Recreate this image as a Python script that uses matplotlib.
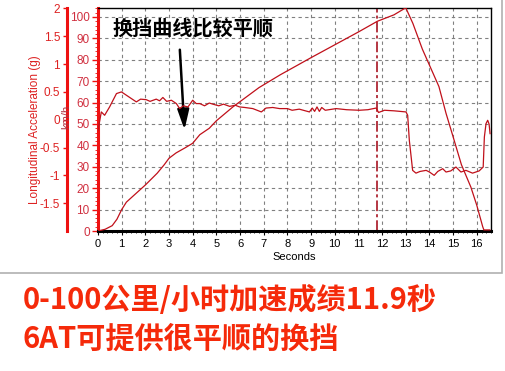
import numpy as np
import matplotlib
matplotlib.use("Agg")
import matplotlib.pyplot as plt
from matplotlib.patches import Rectangle
from matplotlib.ticker import MultipleLocator

# speed trace (s, km/h)
speed_t = [0, 0.3, 0.6, 0.8, 1.0, 1.2, 1.5, 2.0, 2.5, 2.8, 3.0, 3.3, 3.7, 4.0, 4.3,
           4.7, 5.0, 5.7, 6.8, 7.7, 9.0, 10.0, 11.0, 11.8, 12.5, 13.0, 13.3, 13.7,
           14.4, 14.7, 15.0, 15.35, 15.75, 16.0, 16.25, 16.3, 16.55]
speed_v = [0, 0.8, 2.5, 5.5, 10, 13.5, 16.5, 21.5, 27, 31, 34, 36.5, 39, 41, 45,
           48, 51.5, 58, 67, 73, 81, 87, 93, 98, 101, 104.3, 97, 85,
           67.5, 55, 44, 31, 20.5, 12, 2, 0.5, 0.5]

# longitudinal acceleration trace (s, g)
acc_t = [0.0, 0.14, 0.28, 0.49, 0.78, 0.99, 1.2, 1.62, 1.8, 2.04, 2.2, 2.46, 2.6,
         2.74, 2.9, 3.1, 3.31, 3.45, 3.6, 3.8, 4.0, 4.15, 4.3, 4.5, 4.7, 4.85,
         5.1, 5.3, 5.56, 5.8, 5.98, 6.2, 6.54, 6.9, 7.1, 7.38, 7.67, 8.0, 8.2,
         8.5, 8.93, 9.05, 9.15, 9.25, 9.35, 9.45, 9.6, 10.06, 10.5, 11.04, 11.4,
         11.75, 11.85, 12.1, 12.5, 13.01, 13.08, 13.15, 13.29, 13.43, 13.6,
         13.86, 14.0, 14.2, 14.35, 14.56, 14.7, 14.9, 15.12, 15.33, 15.54,
         15.82, 16.1, 16.27, 16.32, 16.39, 16.46, 16.52, 16.56]
acc_g = [-0.19, 0.14, 0.08, 0.23, 0.47, 0.50, 0.44, 0.32, 0.37, 0.36, 0.33, 0.37,
         0.34, 0.40, 0.33, 0.35, 0.29, 0.20, 0.25, 0.23, 0.35, 0.29, 0.29, 0.25,
         0.30, 0.28, 0.25, 0.28, 0.24, 0.26, 0.23, 0.22, 0.20, 0.14, 0.21, 0.22,
         0.20, 0.20, 0.17, 0.19, 0.14, 0.21, 0.15, 0.23, 0.15, 0.22, 0.17, 0.20,
         0.18, 0.17, 0.18, 0.21, 0.13, 0.17, 0.16, 0.14, 0.08, -0.37, -0.91,
         -0.96, -0.93, -0.91, -0.94, -1.0, -0.93, -0.88, -0.94, -0.92, -0.85,
         -0.94, -0.91, -0.96, -0.92, -0.85, -0.31, -0.07, -0.01, -0.08, -0.25]

speed_ticks = list(range(0, 101, 10))
acc_ticks = [-1.5, -1, -0.5, 0, 0.5, 1, 1.5, 2]
acc_labels = ["-1.5", "-1", "-0.5", "0", "0.5", "1", "1.5", "2"]
t_mark = 11.8

note = "换挡曲线比较平顺"
caption1 = "0-100公里/小时加速成绩11.9秒"
caption2 = "6AT可提供很平顺的换挡"

line_red = "#c0101a"
spine_red = "#ee1111"
cjk = ["Noto Sans CJK SC", "DejaVu Sans"]

fig = plt.figure(figsize=(5.06, 3.71), dpi=100)
fig.patch.set_facecolor("white")
ax = fig.add_axes([98/506, 1-231/371, (491-98)/506, (231-8)/371])

ax.set_xlim(0, 16.6)
ax.set_ylim(0, 104.2)
ax.set_xticks(range(0, 17))
ax.set_yticks(speed_ticks)
ax.xaxis.set_minor_locator(MultipleLocator(0.2))
ax.yaxis.set_minor_locator(MultipleLocator(2))
ax.grid(True, color="#808080", linestyle=(0, (3, 3)), linewidth=0.8)
ax.set_axisbelow(True)

for s in ["top", "right"]:
    ax.spines[s].set_linewidth(1.0)
    ax.spines[s].set_color("black")
ax.spines["left"].set_color(spine_red)
ax.spines["left"].set_linewidth(2.2)
ax.spines["bottom"].set_color("black")
ax.spines["bottom"].set_linewidth(2.2)

ax.tick_params(axis="x", labelsize=8, length=3, width=0.8, pad=3)
ax.tick_params(axis="x", which="minor", length=1.5, width=0.6)
ax.tick_params(axis="y", labelsize=8.5, length=4, width=1, color=spine_red,
               labelcolor="#d03040", pad=2)
ax.tick_params(axis="y", which="minor", length=2, width=0.6, color=spine_red)
for lb in ax.get_xticklabels() + ax.get_yticklabels():
    lb.set_fontfamily("Liberation Sans")

ax.set_xlabel("Seconds", fontsize=8, family="Liberation Sans", labelpad=2)

ax.plot(speed_t, speed_v, color=line_red, linewidth=0.9, zorder=3)
ax.axvline(t_mark, color="#a00010", linewidth=1.1, linestyle=(0, (7, 2, 2, 2)))

ax2 = ax.twinx()
ax2.set_ylim(-2, 2.008)
ax2.yaxis.set_ticks_position("left")
ax2.yaxis.set_label_position("left")
ax2.spines["left"].set_position(("outward", 31 * 0.72))
ax2.spines["left"].set_color(spine_red)
ax2.spines["left"].set_linewidth(2.2)
for s in ["top", "right", "bottom"]:
    ax2.spines[s].set_visible(False)
ax2.set_yticks(acc_ticks)
ax2.set_yticklabels(acc_labels)
ax2.tick_params(axis="y", labelsize=8.5, length=3, width=1, color=spine_red,
                labelcolor="#dd2222", pad=2)
for lb in ax2.get_yticklabels():
    lb.set_fontfamily("Liberation Sans")
ax2.set_ylabel("Longitudinal Acceleration (g)", fontsize=8.5, color="#dd2222",
               family="Liberation Sans")
ax2.yaxis.set_label_coords((41-98)/393, 0.455)
ax2.plot(acc_t, acc_g, color=line_red, linewidth=0.9, zorder=3)

ax2.text((66-98)/393, 0.51, "km/h", rotation=90, fontsize=8, color="#b03040",
         family="Liberation Sans", ha="center", va="center",
         transform=ax2.transAxes, clip_on=False, zorder=6)

ax.text(4.0, 95, note, fontsize=14.5, fontweight="heavy", fontstyle="italic",
        family=cjk, ha="center", va="center", zorder=5)
ax.annotate("", xy=(3.66, 46), xytext=(3.45, 86),
            arrowprops=dict(arrowstyle="-|>,head_length=1.2,head_width=0.35",
                            color="black", linewidth=1.8), zorder=5)

fig.add_artist(Rectangle((-0.01, 1-273/371), 502/506+0.01, 273/371+0.01,
                         transform=fig.transFigure, fill=False,
                         edgecolor="#b0b0b0", linewidth=1.2))

fig.text(23/506, 1-300/371, caption1, fontsize=21, fontweight="heavy",
         fontstyle="italic", color="#f52a0a", family=cjk,
         ha="left", va="center")
fig.text(23/506, 1-339/371, caption2, fontsize=21, fontweight="heavy",
         fontstyle="italic", color="#f52a0a", family=cjk,
         ha="left", va="center")

fig.savefig("out.png", dpi=100)
